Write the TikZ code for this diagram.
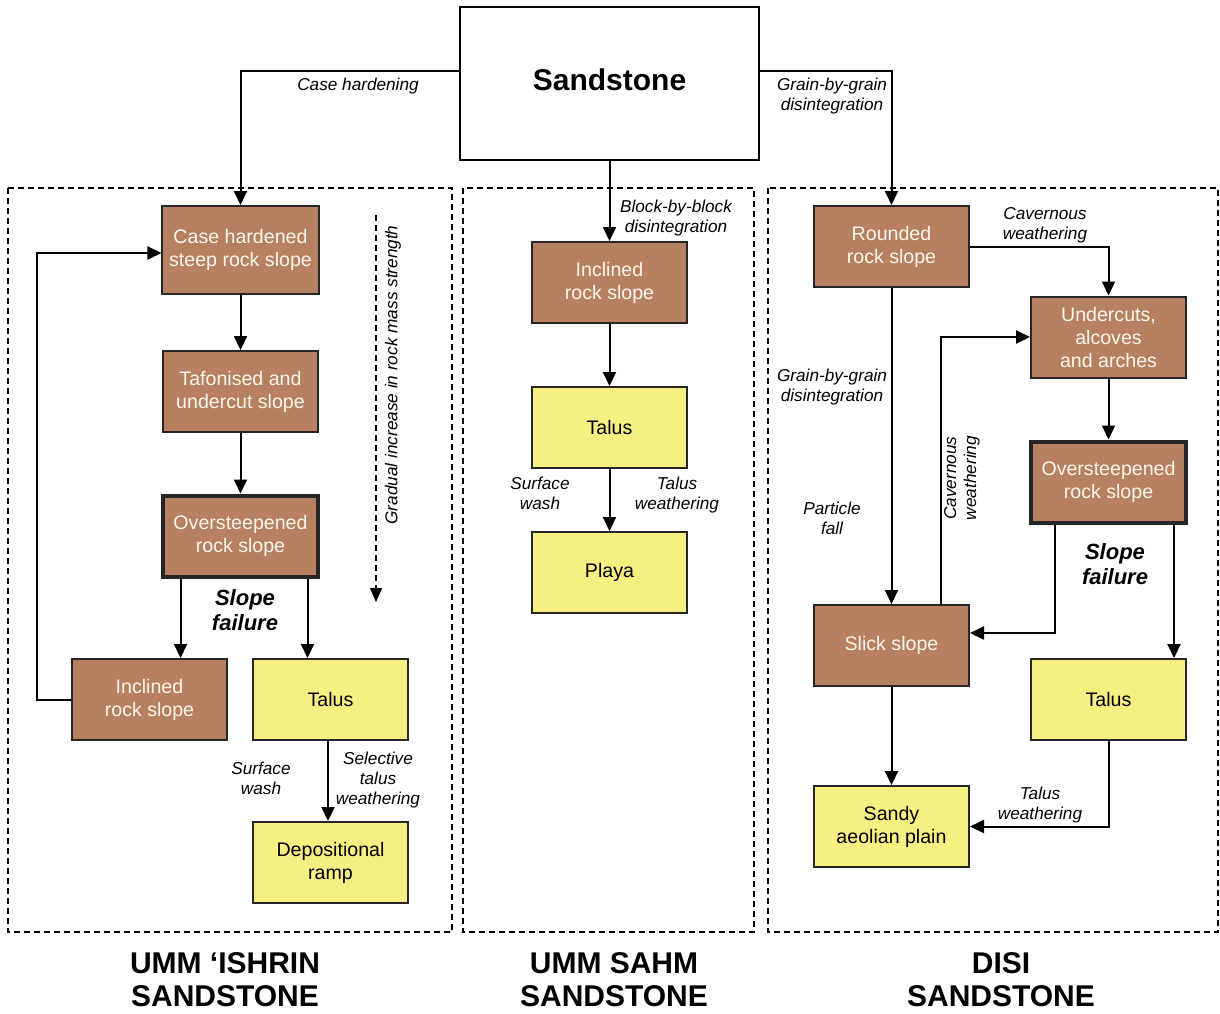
\documentclass[tikz,border=0pt]{standalone}
\usepackage{fontspec}
\setmainfont{Liberation Sans}
\definecolor{rockbrown}{RGB}{183,128,96}
\definecolor{talusyellow}{RGB}{246,240,130}
\definecolor{paletext}{RGB}{250,246,238}
\usetikzlibrary{arrows.meta, positioning, calc}

\begin{document}
\begin{tikzpicture}[x=0.5pt, y=-0.5pt,
  rock/.style={draw=black!85, line width=1pt, fill=rockbrown, text=paletext, minimum width=77.5pt, minimum height=40.5pt, align=center, font=\fontsize{9.8}{11.5}\selectfont},
  debris/.style={rock, fill=talusyellow, text=black},
  steep/.style={rock, line width=2pt},
  flow/.style={draw, line width=1pt, -{Triangle[width=6.5pt,length=7pt]}},
  cue/.style={align=center, font=\fontsize{8.6}{10}\selectfont\itshape, inner sep=1pt},
  fail/.style={align=center, font=\fontsize{11}{12.5}\selectfont\bfseries\itshape},
  panel/.style={draw, line width=0.7pt, dash pattern=on 3pt off 2pt},
  unit/.style={align=center, font=\fontsize{15}{16.5}\selectfont\bfseries}
]
  \useasboundingbox (0,0) rectangle (1220,1013);

  % panels
  \draw[panel] (8,188) rectangle (452,932);
  \draw[panel] (463,188) rectangle (754,932);
  \draw[panel] (768,188) rectangle (1218,932);

  \node[draw, line width=1pt, minimum width=149.5pt, minimum height=76.5pt, text depth=4pt, font=\fontsize{15}{18}\selectfont\bfseries] (sand) at (609.5,83.5) {Sandstone};

  % Umm Ishrin
  \node[rock, minimum height=44pt] (uhard) at (240.5,250) {Case hardened\\steep rock slope};
  \node[rock] (utafo) at (240.5,391.5) {Tafonised and\\undercut slope};
  \node[steep] (uover) at (240.5,536) {Oversteepened\\rock slope};
  \node[rock] (uincl) at (149.5,699.5) {Inclined\\rock slope};
  \node[debris] (utalus) at (330.5,699.5) {Talus};
  \node[debris] (uramp) at (330.5,862.5) {Depositional\\ramp};

  \coordinate (uhl) at ($(sand.west)+(0,-12.5)$);
  \draw[flow] (uhl) -| (uhard.north);
  \node[cue] (ucase) at (358,86) {Case hardening};
  \draw[flow] (uhard) -- (utafo);
  \draw[flow] (utafo) -- (uover);
  \coordinate (uol) at ([xshift=-30pt]uover.south);
  \coordinate (uor) at ([xshift=33.5pt]uover.south);
  \draw[flow] (uol) -- (uol |- uincl.north);
  \draw[flow] (uor) -- (uor |- utalus.north);
  \coordinate (uhw) at ([yshift=-1.5pt]uhard.west);
  \draw[flow] (uincl.west) -- ++(-34,0) |- (uhw);
  \coordinate (utb) at ([xshift=-1.25pt]utalus.south);
  \draw[flow] (utb) -- (utb |- uramp.north);
  \node[fail] (ufail) at (245,610) {Slope\\failure};
  \node[cue] (uwash) at (261,778) {Surface\\wash};
  \node[cue] (usel) at (378,780) {Selective\\talus\\weathering};

  \coordinate (ug1) at (376,215);
  \coordinate (ug2) at (376,602);
  \draw[line width=0.7pt, dash pattern=on 3pt off 2pt, -{Triangle[width=6pt,length=7pt]}] (ug1) -- (ug2);
  \node[cue, rotate=90] (ugrad) at (393,375) {Gradual increase in rock mass strength};

  % Umm Sahm
  \node[rock] (mincl) at (609.5,282.5) {Inclined\\rock slope};
  \node[debris] (mtalus) at (609.5,427.5) {Talus};
  \node[debris] (mplaya) at (609.5,572.5) {Playa};
  \draw[flow] (sand.south) -- (mincl.north);
  \node[cue] (mblock) at (676,218) {Block-by-block\\disintegration};
  \draw[flow] (mincl) -- (mtalus);
  \draw[flow] (mtalus) -- (mplaya);
  \node[cue] (mwash) at (540,493) {Surface\\wash};
  \node[cue] (mweath) at (677,495) {Talus\\weathering};

  % Disi
  \node[rock] (dround) at (891.5,246.5) {Rounded\\rock slope};
  \node[rock] (dcave) at (1108.5,337) {Undercuts,\\alcoves\\and arches};
  \node[steep] (dover) at (1108.5,482) {Oversteepened\\rock slope};
  \node[rock] (dslick) at (891.5,645.5) {Slick slope};
  \node[debris] (dtalus) at (1108.5,699.5) {Talus};
  \node[debris] (dsandy) at (891.5,826.5) {Sandy\\aeolian plain};

  \coordinate (dhr) at ($(sand.east)+(0,-12.5)$);
  \draw[flow] (dhr) -| (dround.north);
  \node[cue] (dgrain) at (832,96) {Grain-by-grain\\disintegration};
  \draw[flow] (dround.east) -| (dcave.north);
  \node[cue] (dcavw) at (1045,225) {Cavernous\\weathering};
  \draw[flow] (dcave) -- (dover);
  \draw[flow] (dround) -- (dslick);
  \node[cue] (dgrain2) at (832,387) {Grain-by-grain\\disintegration};
  \node[cue] (dfall) at (832,518) {Particle\\fall};
  \coordinate (dsu) at ([xshift=24.75pt]dslick.north);
  \draw[flow] (dsu) |- (dcave.west);
  \node[cue, rotate=90] (dcavw2) at (962,478) {Cavernous\\weathering};
  \coordinate (dol) at ([xshift=-26.75pt]dover.south);
  \coordinate (dor) at ([xshift=32.75pt]dover.south);
  \coordinate (dse) at ([yshift=6.25pt]dslick.east);
  \draw[flow] (dol) |- (dse);
  \draw[flow] (dor) -- (dor |- dtalus.north);
  \node[fail] (dfail) at (1115,564) {Slope\\failure};
  \draw[flow] (dslick) -- (dsandy);
  \draw[flow] (dtalus.south) |- (dsandy.east);
  \node[cue] (dweath) at (1040,805) {Talus\\weathering};

  % formation names
  \node[unit] (nishrin) at (225,980) {UMM ‘ISHRIN\\SANDSTONE};
  \node[unit] (nsahm) at (614,980) {UMM SAHM\\SANDSTONE};
  \node[unit] (ndisi) at (1001,980) {DISI\\SANDSTONE};
\end{tikzpicture}
\end{document}
